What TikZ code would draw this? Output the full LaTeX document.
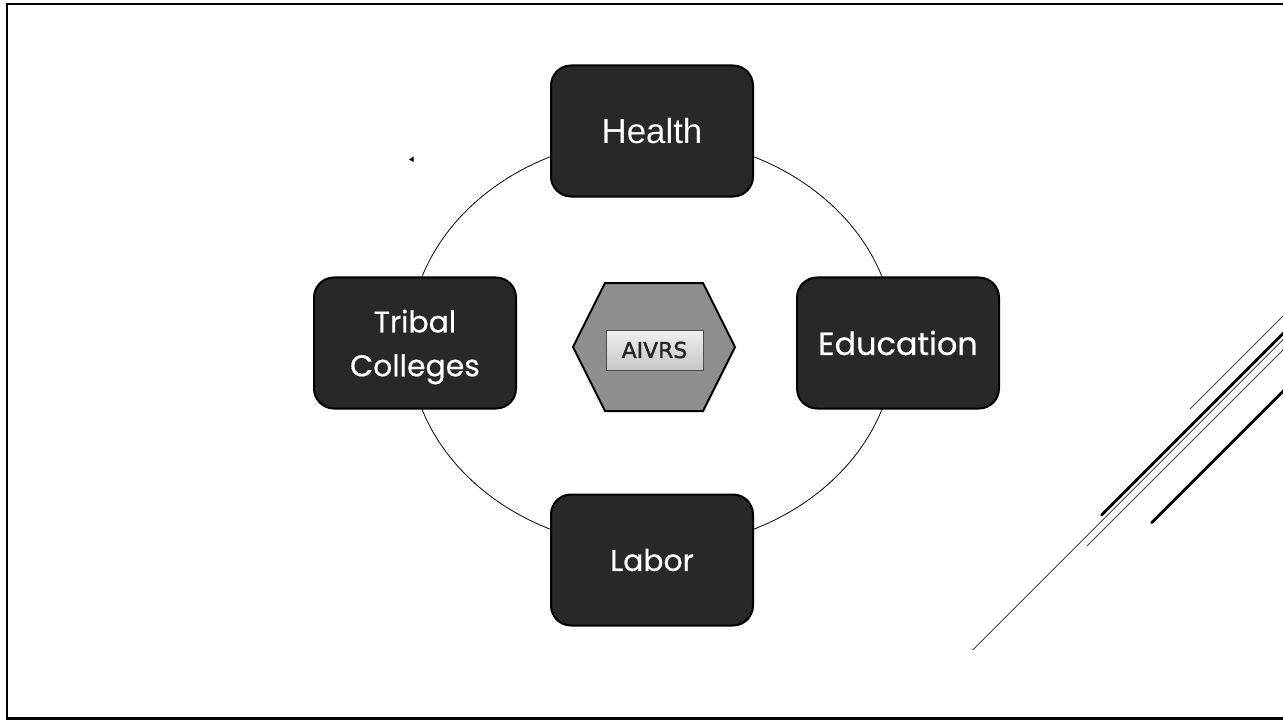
\documentclass[tikz,border=0pt]{standalone}
\usepackage{fontspec}
\setmainfont{Liberation Sans}
\newfontfamily\gothic[FakeBold=0.6]{Poppins}
\newfontfamily\btnfont[FakeBold=1.6]{DejaVu Sans}
\usepackage{xcolor}
\usetikzlibrary{arrows}

\definecolor{boxgray}{HTML}{282828}
\definecolor{hexgray}{HTML}{8E8E8E}
\definecolor{linegray}{HTML}{444444}

\begin{document}
\begin{tikzpicture}[x=1bp, y=-1bp,
    sector/.style={rectangle,
          draw = black,
          line width = 2bp,
          rounded corners = 20bp,
          fill = boxgray,
          minimum width = 202bp,
          minimum height = 131bp},
    sectortext/.style={text = white, align = center}
    ]

    \useasboundingbox (0,0) rectangle (1283,721);
    \clip (0,0) rectangle (1283,721);

    % slide frame
    \draw[line width = 2.5bp] (1300,4) -- (7,4) -- (7,718.5) -- (1300,718.5);

    % ring behind the boxes
    \coordinate (ring) at (652,343);
    \draw[line width = 0.8bp] (ring) ellipse [x radius = 243bp, y radius = 205bp];

    \node[sector] (health) at (652,131) {};
    \node[sectortext, font = \fontsize{35}{40}\selectfont] (healthtxt) at (health.center) {Health};

    \node[sector] (tribal) at (415,343) {};
    \node[sectortext, font = \gothic\fontsize{30}{44}\selectfont, yshift = -4bp] (tribaltxt) at (tribal.center) {Tribal\\Colleges};

    \node[sector] (educ) at (898,343) {};
    \node[sectortext, font = \gothic\fontsize{32}{40}\selectfont] (eductxt) at (educ.center) {Education};

    \node[sector] (labor) at (652,560) {};
    \node[sectortext, font = \gothic\fontsize{30}{40}\selectfont] (labortxt) at (labor.center) {Labor};

    % hub
    \coordinate (hub) at (654,347);
    \draw[fill = hexgray, line width = 2bp, line join = miter]
        (hub) ++(-81,0) -- ++(32,-64) -- ++(98,0) -- ++(32,64)
        -- ++(-32,64) -- ++(-98,0) -- cycle;
    \node[rectangle,
          draw = gray!60!black,
          line width = 1bp,
          top color = gray!12,
          bottom color = gray!45,
          minimum width = 97bp,
          minimum height = 40bp
          ] (aivrs) at (654.5,350) {};
    \node[text = black!85, font = \btnfont\fontsize{22}{24}\selectfont] (aivrstxt) at (aivrs.center) {AIVRS};

    % stray marker
    \fill (409,159.5) -- (413.5,156.5) -- (413.5,162) -- cycle;

    % corner strokes
    \draw[linegray, line width = 1bp] (1190,409) -- ++(200,-200);
    \draw[linegray, line width = 1bp] (972.7,650) -- ++(400,-400);
    \draw[linegray, line width = 1bp] (1087,546) -- ++(300,-300);
    \draw[line width = 2.8bp, line cap = round] (1101.7,515) -- ++(300,-300);
    \draw[line width = 2.8bp, line cap = round] (1151.7,522.7) -- ++(300,-300);

\end{tikzpicture}
\end{document}
